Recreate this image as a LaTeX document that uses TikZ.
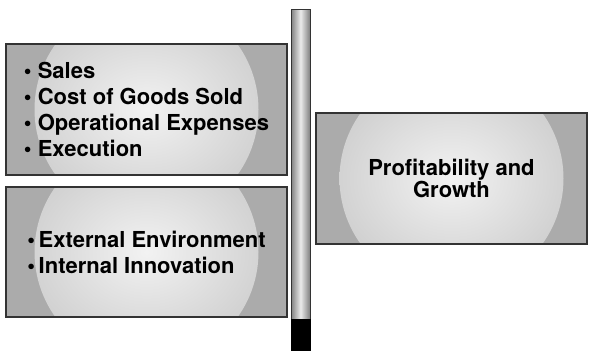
\documentclass[tikz,border=0pt]{standalone}
\usepackage{fontspec}
\setmainfont{TeX Gyre Heros}
\begin{document}
\begin{tikzpicture}
	[x=1pt,y=-1pt,
	every node/.style={font=\bfseries\fontsize{22}{26}\selectfont,inner sep=0pt},
	panel/.style={draw=black!80,line width=1.2pt,fill=black!33,minimum width=281pt,minimum height=131pt,align=left,
		path picture={\shade[inner color=black!5,outer color=black!20] (path picture bounding box.center) circle (112pt);}},
	pole/.style={draw=black!80,line width=1pt,left color=black!50,right color=black!50,middle color=black!8,minimum width=19pt,minimum height=341pt},
	base/.style={draw=black,fill=black,minimum width=19pt,minimum height=31pt}
	]
	\useasboundingbox (0,0) rectangle (590,351);
	\node[pole] (pole) at (300.5,179.5) {};
	\node[base] (base) at (300.5,334.5) {};
	\node[panel] (drivers) at (146.5,109.5) {\textbullet\ Sales\\\textbullet\ Cost of Goods Sold\\\textbullet\ Operational Expenses\\\textbullet\ Execution};
	\node[panel,minimum height=130pt] (factors) at (146.5,252) {\textbullet\,External Environment\\\textbullet\,Internal Innovation};
	\node[panel,minimum width=271pt,align=center,font=\bfseries\fontsize{22}{22.5}\selectfont] (result) at (451.5,178.5) {Profitability and\\Growth};
\end{tikzpicture}
\end{document}
